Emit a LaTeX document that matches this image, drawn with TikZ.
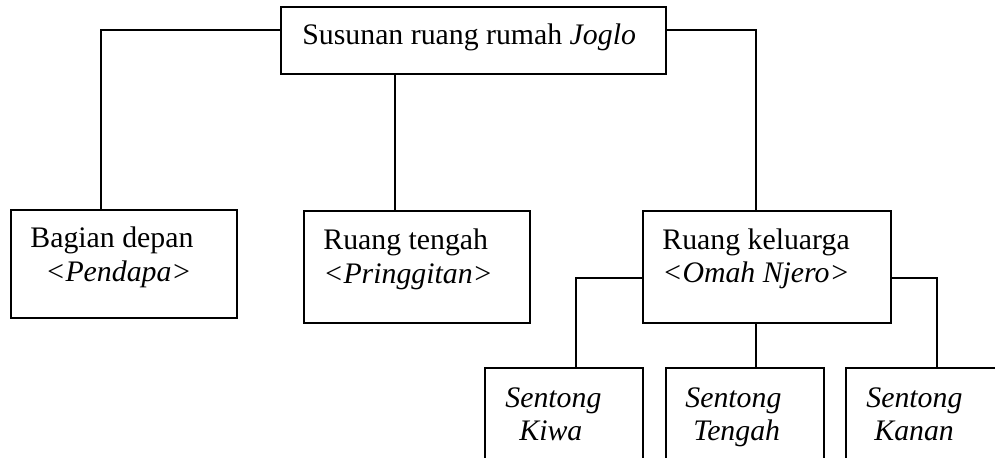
\documentclass[tikz,border=0pt]{standalone}
\usepackage{fontspec}
\setmainfont{Liberation Serif}
\newcommand\pxu[1]{#1*0.5pt}
\begin{document}
\begin{tikzpicture}[x=0.5pt,y=-0.5pt,
  box/.style={draw, line width=0.9pt, inner sep=0pt, rectangle},
  lbl/.style={anchor=base west, inner sep=0pt, font=\fontsize{14.9}{17}\selectfont},
  conn/.style={line width=0.9pt}]
\useasboundingbox (0,0) rectangle (995,457);
\clip (0,0) rectangle (995,457);
% boxes
\node[box, minimum width=\pxu{385}, minimum height=\pxu{67}] (top) at (473.5,40.5) {};
\node[box, minimum width=\pxu{226}, minimum height=\pxu{108}] (b1) at (124,264) {};
\node[box, minimum width=\pxu{226}, minimum height=\pxu{112}] (b2) at (417,267) {};
\node[box, minimum width=\pxu{248}, minimum height=\pxu{112}] (b3) at (767,267) {};
\node[box, minimum width=\pxu{158}, minimum height=\pxu{102}] (k1) at (564,419) {};
\node[box, minimum width=\pxu{158}, minimum height=\pxu{102}] (k2) at (745,419) {};
\node[box, minimum width=\pxu{164}, minimum height=\pxu{102}] (k3) at (928,419) {};
% texts
\node[lbl] (t0) at (302,44) {Susunan ruang rumah \textit{Joglo}};
\node[lbl] (t1a) at (30,247) {Bagian depan};
\node[lbl] (t1b) at (45,281) {\textit{<Pendapa>}};
\node[lbl] (t2a) at (323,249) {Ruang tengah};
\node[lbl] (t2b) at (323,283) {\textit{<Pringgitan>}};
\node[lbl] (t3a) at (662,249) {Ruang keluarga};
\node[lbl] (t3b) at (662,282) {\textit{<Omah Njero>}};
\node[lbl] (s1a) at (505,407) {\textit{Sentong}};
\node[lbl] (s1b) at (519,440) {\textit{Kiwa}};
\node[lbl] (s2a) at (685,407) {\textit{Sentong}};
\node[lbl] (s2b) at (693,440) {\textit{Tengah}};
\node[lbl] (s3a) at (866,407) {\textit{Sentong}};
\node[lbl] (s3b) at (874,440) {\textit{Kanan}};
% elbow coordinates
\coordinate (e1) at (101,30);
\coordinate (e2) at (395,0);
\coordinate (e3) at (756,30);
\coordinate (f1) at (576,278);
\coordinate (f2) at (756,0);
\coordinate (f3) at (937,278);
% connectors
\draw[conn] (top.west |- e1) -- (e1) -- (e1 |- b1.north);
\draw[conn] (e2 |- top.south) -- (e2 |- b2.north);
\draw[conn] (top.east |- e3) -- (e3) -- (e3 |- b3.north);
\draw[conn] (b3.west |- f1) -- (f1) -- (f1 |- k1.north);
\draw[conn] (f2 |- b3.south) -- (f2 |- k2.north);
\draw[conn] (b3.east |- f3) -- (f3) -- (f3 |- k3.north);
\end{tikzpicture}
\end{document}
